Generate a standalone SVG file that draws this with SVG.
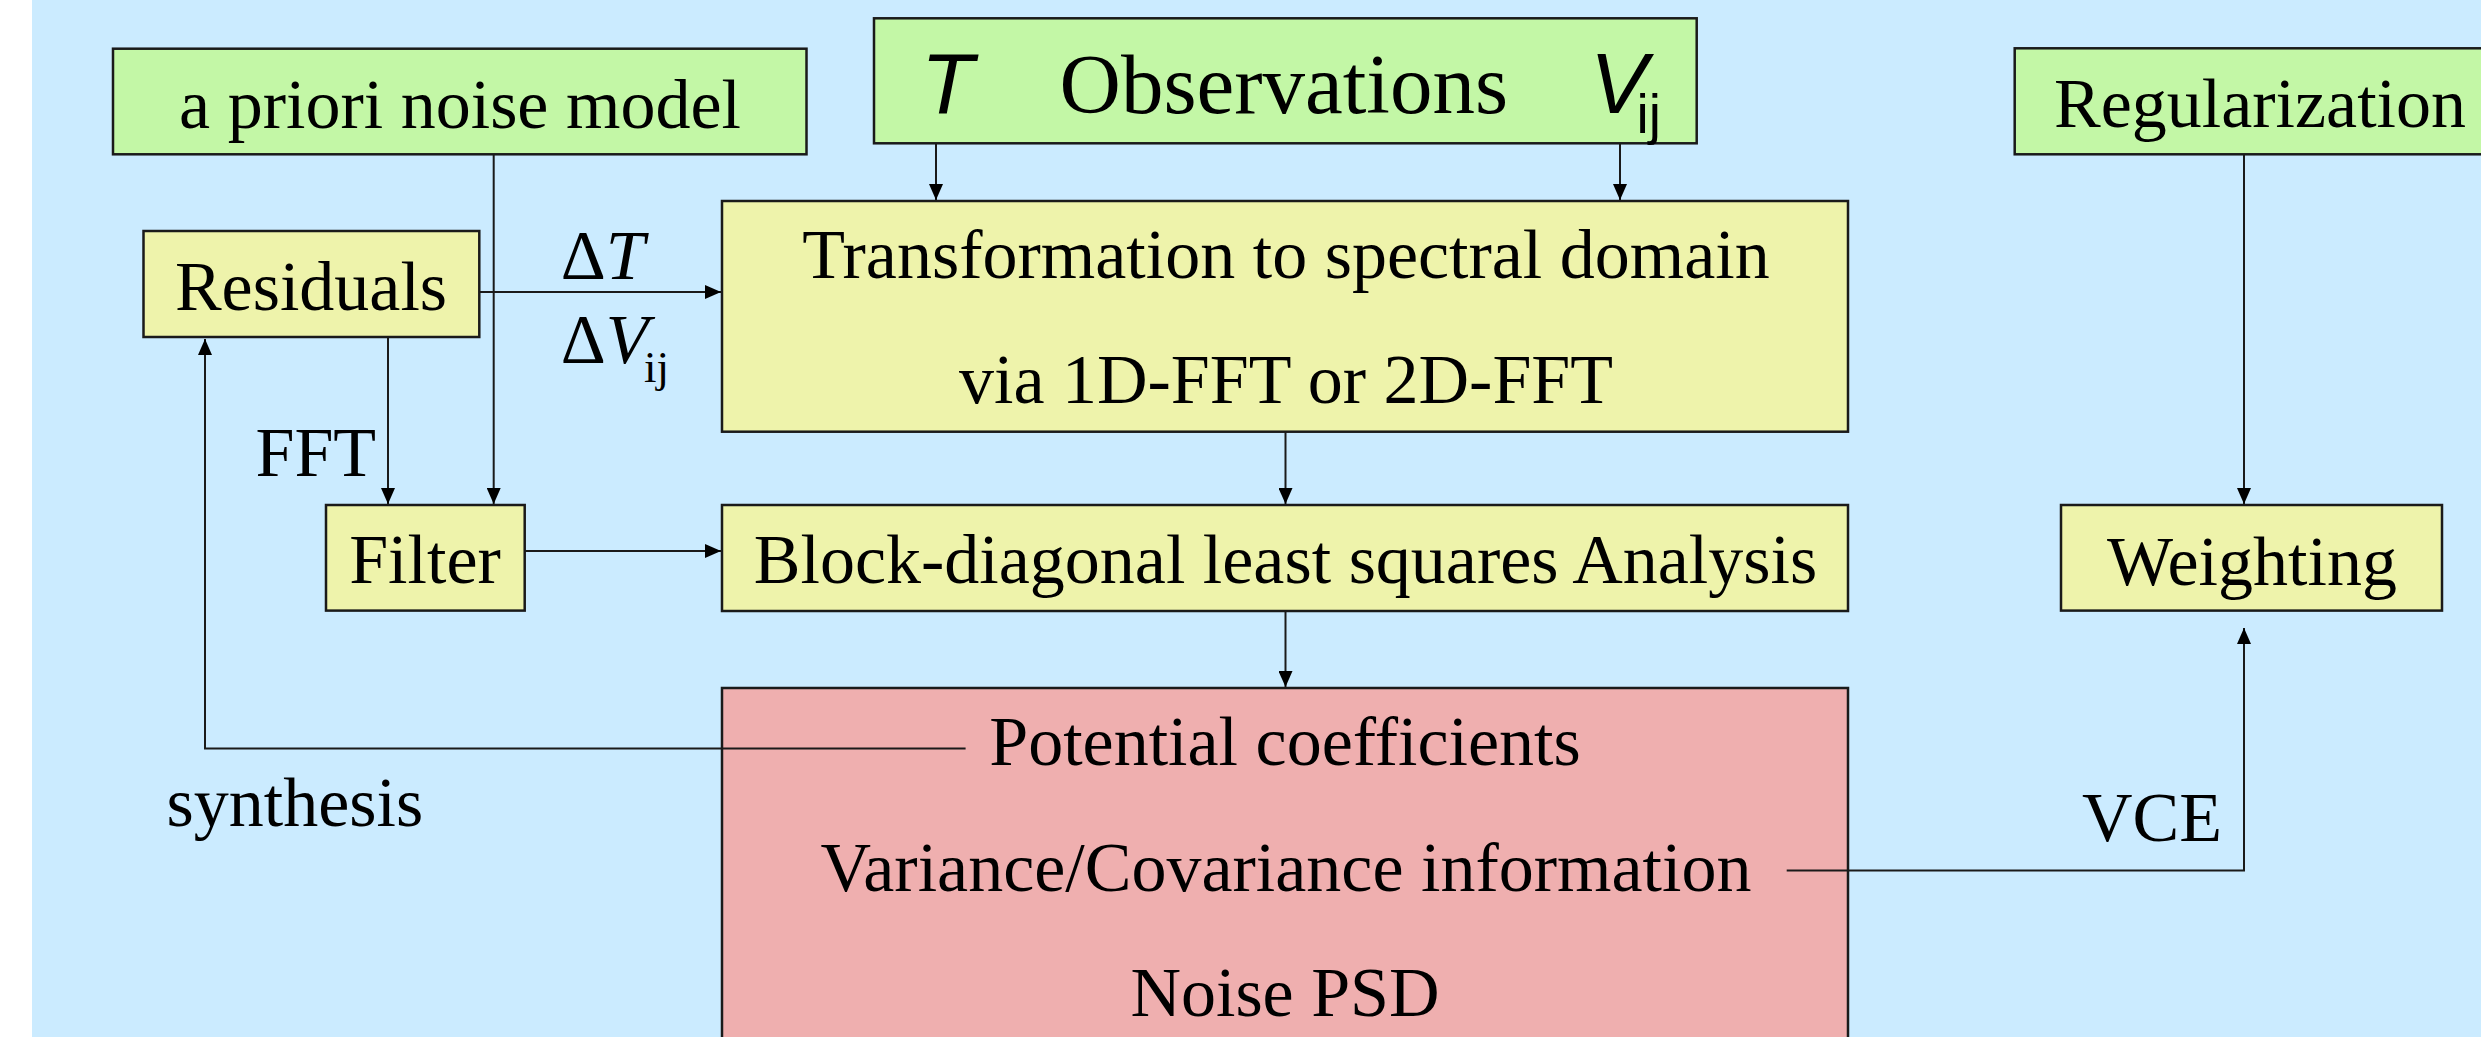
<svg xmlns="http://www.w3.org/2000/svg" width="2481" height="1037" viewBox="0 0 2481 1037">
<defs>
<style>
.box{stroke:#1a1a1a;stroke-width:2.5}
.g{fill:#c3f7a6}
.y{fill:#eef3ab}
.p{fill:#efafaf}
.t{font-family:"Liberation Serif","Times New Roman",serif;font-size:70px;fill:#000}
.big{font-size:85px}
.sub{font-size:45px}
.s{font-family:"Liberation Sans",Arial,sans-serif;fill:#000;font-size:86px}
.ssub{font-size:55px}
.c{text-anchor:middle}
.ln{fill:none;stroke:#1a1a1a;stroke-width:2}
</style>
<marker id="ah" markerUnits="userSpaceOnUse" markerWidth="16" markerHeight="14" refX="16" refY="7" orient="auto">
<path d="M0,0 L16,7 L0,14 z" fill="#000"/>
</marker>
</defs>
<rect x="0" y="0" width="2481" height="1037" fill="#ffffff"/>
<rect x="32" y="0" width="2449" height="1037" fill="#cbebff"/>

<g id="apriori">
<rect class="box g" x="113" y="48.7" width="693.5" height="105.6"/>
<text class="t c" x="460" y="128">a priori noise model</text>
</g>

<g id="observations">
<rect class="box g" x="874" y="18.3" width="822.7" height="125"/>
<text class="s" x="921" y="112.7" font-style="italic">T</text>
<text class="t big" x="1059.5" y="112.7">Observations</text>
<text class="s" x="1590" y="112.7" font-style="italic">V</text>
<text class="s ssub" x="1636.5" y="133.3">ij</text>
</g>

<g id="regularization">
<rect class="box g" x="2014.7" y="48.3" width="500" height="106"/>
<text class="t" x="2054" y="127">Regularization</text>
</g>

<g id="residuals">
<rect class="box y" x="143.5" y="231" width="335.8" height="106"/>
<text class="t c" x="311" y="310">Residuals</text>
</g>

<g id="transformation">
<rect class="box y" x="722" y="201" width="1126" height="230.7"/>
<text class="t c" x="1286" y="278">Transformation to spectral domain</text>
<text class="t c" x="1286" y="403">via 1D-FFT or 2D-FFT</text>
</g>

<g id="filter">
<rect class="box y" x="326" y="505" width="198.7" height="105.6"/>
<text class="t c" x="425" y="583">Filter</text>
</g>

<g id="block">
<rect class="box y" x="722" y="505" width="1126" height="106"/>
<text class="t c" x="1285.5" y="583">Block-diagonal least squares Analysis</text>
</g>

<g id="weighting">
<rect class="box y" x="2061" y="505" width="381" height="105.6"/>
<text class="t c" x="2252" y="584.6">Weighting</text>
</g>

<g id="results">
<rect class="box p" x="722" y="688" width="1126" height="400"/>
<text class="t c" x="1285" y="764.5">Potential coefficients</text>
<text class="t c" x="1286" y="891">Variance/Covariance information</text>
<text class="t c" x="1285" y="1016">Noise PSD</text>
</g>

<g id="labels">
<text class="t" x="560.7" y="279.3">Δ<tspan font-style="italic">T</tspan></text>
<text class="t" x="560.7" y="363.3">Δ<tspan font-style="italic">V</tspan></text>
<text class="t sub" x="644" y="381.7">ij</text>
<text class="t" x="255.5" y="476.4">FFT</text>
<text class="t" x="166.5" y="826">synthesis</text>
<text class="t" x="2082" y="840.7">VCE</text>
</g>

<g id="connectors">
<line class="ln" x1="493.7" y1="155" x2="493.7" y2="504" marker-end="url(#ah)"/>
<line class="ln" x1="479" y1="292" x2="721" y2="292" marker-end="url(#ah)"/>
<line class="ln" x1="388" y1="337" x2="388" y2="504" marker-end="url(#ah)"/>
<line class="ln" x1="936" y1="143" x2="936" y2="200" marker-end="url(#ah)"/>
<line class="ln" x1="1620" y1="143" x2="1620" y2="200" marker-end="url(#ah)"/>
<line class="ln" x1="1285.5" y1="432" x2="1285.5" y2="504" marker-end="url(#ah)"/>
<line class="ln" x1="525" y1="551" x2="721" y2="551" marker-end="url(#ah)"/>
<line class="ln" x1="1285.5" y1="611" x2="1285.5" y2="687" marker-end="url(#ah)"/>
<line class="ln" x1="2244" y1="155" x2="2244" y2="504" marker-end="url(#ah)"/>
<polyline class="ln" points="965.6,748.5 205,748.5 205,339" marker-end="url(#ah)"/>
<polyline class="ln" points="1786.7,870.5 2244,870.5 2244,628" marker-end="url(#ah)"/>
</g>
</svg>
